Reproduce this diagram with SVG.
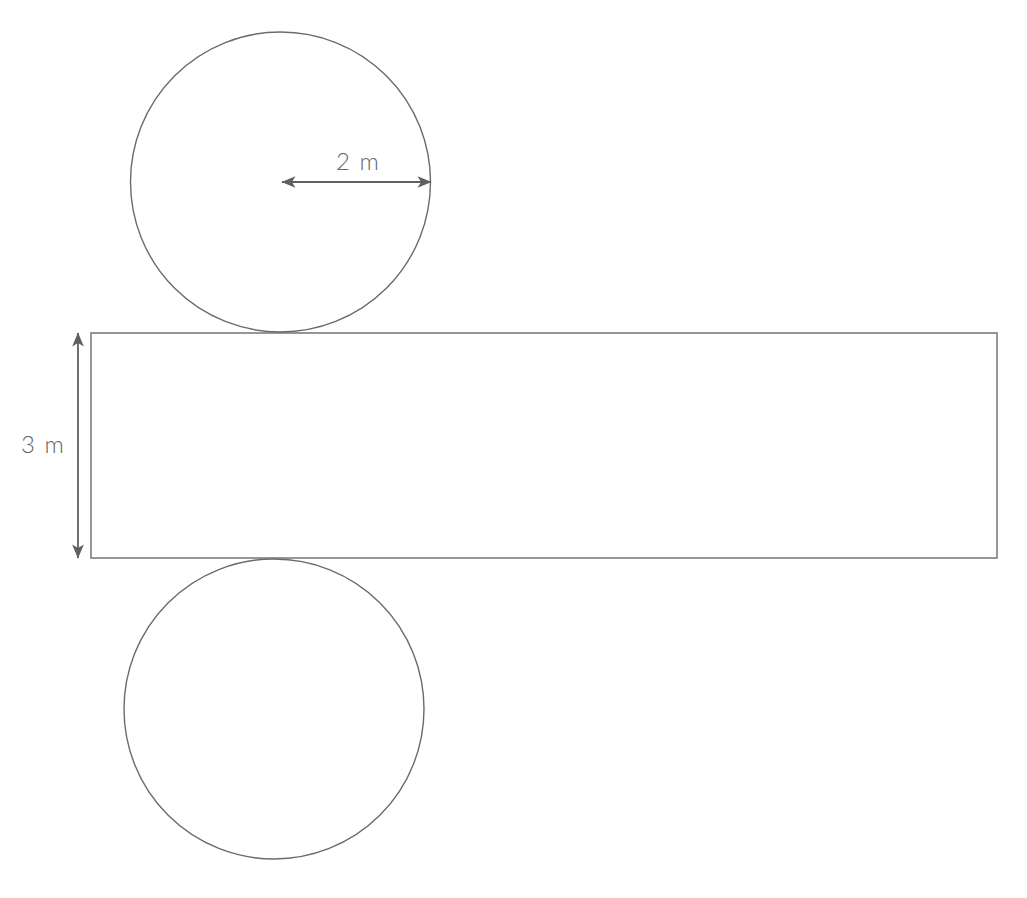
<svg xmlns="http://www.w3.org/2000/svg" width="1027" height="898" viewBox="0 0 1027 898">
<style>
.shape{fill:none;stroke:#6b6b6b;stroke-width:1.4}
.dim{fill:none;stroke:#5f5f5f;stroke-width:1.8}
.lbl{font-family:Lato,"Open Sans","Liberation Sans",sans-serif;font-weight:300;font-size:24px;fill:#666666;letter-spacing:1.5px}
</style>
<defs>
<marker id="ah" viewBox="0 0 12 10" refX="11.5" refY="5" markerWidth="8" markerHeight="6.5" orient="auto-start-reverse" markerUnits="strokeWidth">
<path d="M0,0 L12,5 L0,10 L3,5 Z" fill="#5f5f5f"/>
</marker>
</defs>
<rect width="1027" height="898" fill="#ffffff"/>
<g id="top-circle"><circle class="shape" cx="280.5" cy="182" r="150"/></g>
<g id="rectangle"><rect class="shape" x="91" y="333" width="906" height="225"/></g>
<g id="bottom-circle"><circle class="shape" cx="274" cy="709" r="150"/></g>
<g id="connectors">
<line class="dim" x1="282" y1="182" x2="431" y2="182" marker-start="url(#ah)" marker-end="url(#ah)"/>
<line class="dim" x1="78" y1="333" x2="78" y2="558" marker-start="url(#ah)" marker-end="url(#ah)"/>
</g>
<g id="labels">
<text class="lbl" x="336" y="170">2 m</text>
<text class="lbl" x="21" y="453">3 m</text>
</g>
</svg>
